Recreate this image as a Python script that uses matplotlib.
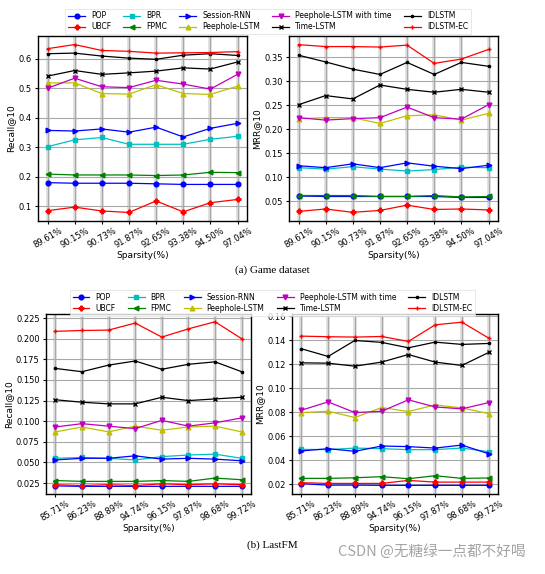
import matplotlib
matplotlib.use("Agg")
import matplotlib.pyplot as plt

methods = ["POP", "UBCF", "BPR", "FPMC", "Session-RNN", "Peephole-LSTM",
           "Peephole-LSTM with time", "Time-LSTM", "IDLSTM", "IDLSTM-EC"]
colors = ["blue", "red", "c", "green", "blue", "y", "m", "black", "black", "red"]
markers = ["o", "P", "s", "<", ">", "^", "v", "x", ".", "+"]

game_sparsity = ["89.61%", "90.15%", "90.73%", "91.87%", "92.65%", "93.38%", "94.50%", "97.04%"]
lastfm_sparsity = ["85.71%", "86.23%", "88.89%", "94.74%", "96.15%", "97.87%", "98.68%", "99.72%"]

game_recall = {
    "POP": [0.180, 0.178, 0.178, 0.178, 0.176, 0.174, 0.174, 0.174],
    "UBCF": [0.085, 0.097, 0.084, 0.079, 0.118, 0.081, 0.112, 0.123],
    "BPR": [0.302, 0.325, 0.333, 0.310, 0.310, 0.310, 0.327, 0.337],
    "FPMC": [0.209, 0.206, 0.206, 0.206, 0.204, 0.206, 0.215, 0.214],
    "Session-RNN": [0.357, 0.355, 0.362, 0.351, 0.368, 0.335, 0.364, 0.381],
    "Peephole-LSTM": [0.518, 0.518, 0.482, 0.480, 0.512, 0.482, 0.479, 0.507],
    "Peephole-LSTM with time": [0.500, 0.534, 0.505, 0.502, 0.527, 0.514, 0.497, 0.547],
    "Time-LSTM": [0.541, 0.560, 0.547, 0.552, 0.558, 0.569, 0.565, 0.589],
    "IDLSTM": [0.617, 0.619, 0.609, 0.602, 0.598, 0.612, 0.617, 0.611],
    "IDLSTM-EC": [0.634, 0.648, 0.628, 0.625, 0.619, 0.620, 0.621, 0.624],
}
game_mrr = {
    "POP": [0.061, 0.060, 0.060, 0.060, 0.060, 0.060, 0.058, 0.058],
    "UBCF": [0.029, 0.034, 0.027, 0.031, 0.042, 0.033, 0.034, 0.032],
    "BPR": [0.120, 0.117, 0.122, 0.117, 0.113, 0.116, 0.121, 0.120],
    "FPMC": [0.062, 0.062, 0.062, 0.060, 0.060, 0.062, 0.059, 0.060],
    "Session-RNN": [0.124, 0.120, 0.128, 0.120, 0.130, 0.123, 0.118, 0.125],
    "Peephole-LSTM": [0.222, 0.224, 0.224, 0.212, 0.228, 0.230, 0.219, 0.233],
    "Peephole-LSTM with time": [0.224, 0.219, 0.222, 0.224, 0.246, 0.224, 0.221, 0.251],
    "Time-LSTM": [0.251, 0.270, 0.263, 0.292, 0.283, 0.277, 0.283, 0.277],
    "IDLSTM": [0.354, 0.340, 0.325, 0.314, 0.339, 0.314, 0.339, 0.331],
    "IDLSTM-EC": [0.376, 0.372, 0.372, 0.371, 0.375, 0.337, 0.346, 0.366],
}
lastfm_recall = {
    "POP": [0.0215, 0.021, 0.021, 0.021, 0.021, 0.021, 0.021, 0.021],
    "UBCF": [0.023, 0.022, 0.023, 0.022, 0.024, 0.023, 0.024, 0.023],
    "BPR": [0.055, 0.056, 0.055, 0.053, 0.057, 0.059, 0.060, 0.055],
    "FPMC": [0.028, 0.027, 0.027, 0.027, 0.028, 0.027, 0.031, 0.029],
    "Session-RNN": [0.053, 0.055, 0.055, 0.058, 0.054, 0.055, 0.054, 0.052],
    "Peephole-LSTM": [0.087, 0.093, 0.087, 0.094, 0.089, 0.093, 0.094, 0.087],
    "Peephole-LSTM with time": [0.093, 0.097, 0.094, 0.091, 0.101, 0.094, 0.098, 0.104],
    "Time-LSTM": [0.126, 0.123, 0.121, 0.121, 0.129, 0.125, 0.127, 0.129],
    "IDLSTM": [0.164, 0.160, 0.168, 0.173, 0.163, 0.169, 0.172, 0.160],
    "IDLSTM-EC": [0.209, 0.210, 0.2105, 0.219, 0.202, 0.212, 0.2206, 0.200],
}
lastfm_mrr = {
    "POP": [0.0206, 0.0194, 0.0194, 0.0192, 0.0192, 0.0192, 0.0192, 0.0192],
    "UBCF": [0.0214, 0.0208, 0.0208, 0.0208, 0.0233, 0.0219, 0.0219, 0.0219],
    "BPR": [0.0491, 0.0489, 0.0502, 0.0497, 0.0489, 0.0489, 0.0502, 0.0472],
    "FPMC": [0.0250, 0.0250, 0.0255, 0.0264, 0.0247, 0.0272, 0.0250, 0.0253],
    "Session-RNN": [0.0478, 0.0497, 0.0475, 0.0519, 0.0514, 0.0502, 0.0527, 0.0455],
    "Peephole-LSTM": [0.0797, 0.0808, 0.0756, 0.0839, 0.0806, 0.0861, 0.0836, 0.0789],
    "Peephole-LSTM with time": [0.0817, 0.0886, 0.0797, 0.0808, 0.0903, 0.0844, 0.0828, 0.0880],
    "Time-LSTM": [0.1211, 0.1208, 0.1183, 0.1217, 0.1280, 0.1217, 0.1189, 0.1297],
    "IDLSTM": [0.1328, 0.1264, 0.1397, 0.1381, 0.1336, 0.1383, 0.1364, 0.1372],
    "IDLSTM-EC": [0.1433, 0.1428, 0.1425, 0.1430, 0.1389, 0.1527, 0.1549, 0.1417],
}

fig = plt.figure(figsize=(5.45, 5.74), dpi=100)

W, H = 545.0, 574.0
def box(l, t, r, b):
    return [l / W, 1 - b / H, (r - l) / W, (b - t) / H]

panels = [
    (box(38, 36, 247, 221), game_sparsity, game_recall, "Recall@10", (0.05, 0.677), None),
    (box(289, 36, 498, 221), game_sparsity, game_mrr, "MRR@10", (0.009, 0.394), [0.05, 0.10, 0.15, 0.20, 0.25, 0.30, 0.35]),
    (box(46, 314, 251, 494), lastfm_sparsity, lastfm_recall, "Recall@10", (0.0117, 0.230), [0.025, 0.05, 0.075, 0.1, 0.125, 0.15, 0.175, 0.2, 0.225]),
    (box(292, 314, 498, 494), lastfm_sparsity, lastfm_mrr, "MRR@10", (0.012, 0.1617), [0.02, 0.04, 0.06, 0.08, 0.10, 0.12, 0.14, 0.16]),
]

axes = []
for rect, cats, data, ylabel, ylim, yticks in panels:
    ax = fig.add_axes(rect)
    x = list(range(len(cats)))
    for xi in x:
        ax.axvline(xi, color="#dcdcdc", lw=2.6, zorder=0)
    ax.grid(True, color="#a8a8a8", lw=0.8, zorder=0.5)
    ax.set_axisbelow(True)
    for m, c, mk in zip(methods, colors, markers):
        ax.plot(x, data[m], color=c, marker=mk, lw=0.9,
                markersize=3.4 if mk not in ("x", ".", "+") else 3.2,
                mew=1.0, label=m, zorder=3)
    ax.set_xticks(x)
    ax.set_xticklabels(cats, rotation=30, fontsize=6)
    ax.set_xlim(-0.35, len(cats) - 0.65)
    ax.set_ylim(*ylim)
    if yticks is not None:
        ax.set_yticks(yticks)
    ax.tick_params(axis="y", labelsize=6, length=2.5, pad=2)
    ax.tick_params(axis="x", length=2.5, pad=1)
    ax.set_ylabel(ylabel, fontsize=6.5, labelpad=2)
    ax.set_xlabel("Sparsity(%)", fontsize=6.5, labelpad=1)
    for s in ax.spines.values():
        s.set_linewidth(1.0)
    axes.append(ax)

handles, labels = axes[0].get_legend_handles_labels()
leg_kw = dict(ncol=5, fontsize=5.5, frameon=True, handlelength=2.2, columnspacing=1.6,
              handletextpad=0.8, labelspacing=0.25, borderpad=0.35, fancybox=False)
l1 = fig.legend(handles, labels, loc="center", bbox_to_anchor=(0.492, 0.963), **leg_kw)
l2 = fig.legend(handles, labels, loc="center", bbox_to_anchor=(0.5, 0.472), **leg_kw)
for l in (l1, l2):
    l.get_frame().set_edgecolor("#dddddd")
    l.get_frame().set_linewidth(0.6)

fig.text(0.5, 1 - 270 / H, "(a) Game dataset", ha="center", va="center",
         fontsize=8, family="Liberation Serif")
fig.text(0.5, 1 - 545 / H, "(b) LastFM", ha="center", va="center",
         fontsize=8, family="Liberation Serif")
fig.text(0.965, 1 - 551 / H, "CSDN @无糖绿一点都不好喝", ha="right", va="center",
         fontsize=10.5, color="#9a9a9a", family=["Noto Sans CJK SC", "DejaVu Sans"], alpha=0.9)

fig.savefig("out.png", dpi=100)
